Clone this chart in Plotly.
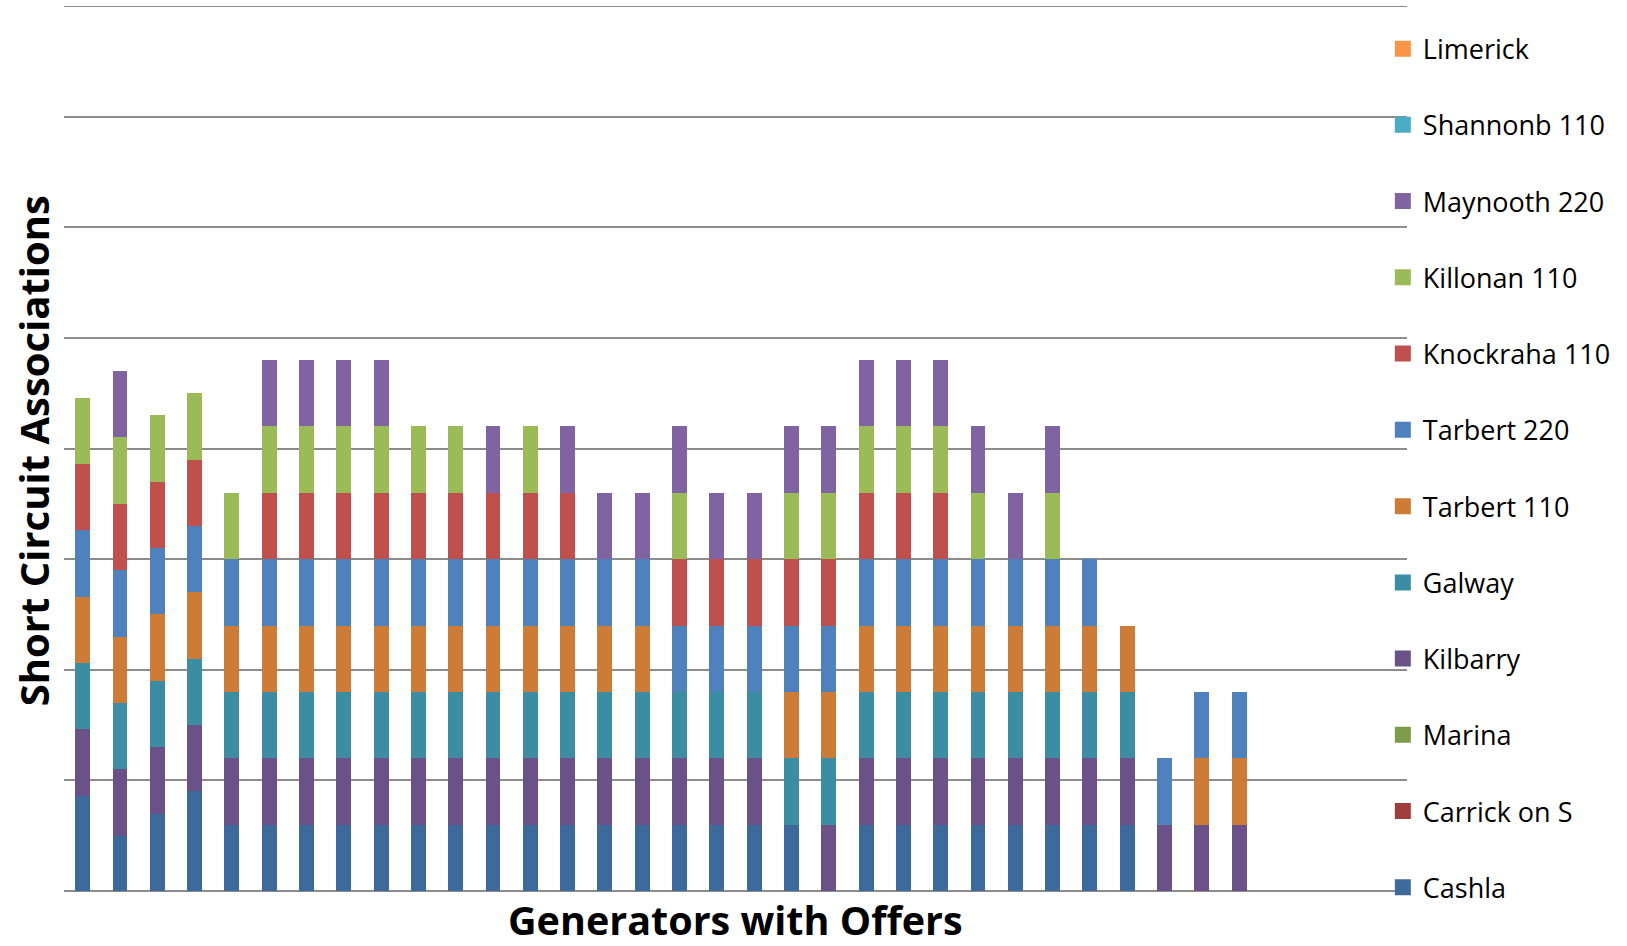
import plotly.graph_objects as go

# 36 generator slots (the last four carry no associations)
generators = [f"G{i}" for i in range(1, 37)]

cashla      = [4.3, 2.5, 3.5, 4.5, 3, 3, 3, 3, 3, 3, 3, 3, 3, 3, 3, 3, 3, 3, 3, 3, 0, 3, 3, 3, 3, 3, 3, 3, 3, 0, 0, 0, 0, 0, 0, 0]
carrick_on_s = [0] * 36
marina      = [0] * 36
kilbarry    = [3, 3, 3, 3, 3, 3, 3, 3, 3, 3, 3, 3, 3, 3, 3, 3, 3, 3, 3, 0, 3, 3, 3, 3, 3, 3, 3, 3, 3, 3, 3, 3, 0, 0, 0, 0]
galway      = [3, 3, 3, 3, 3, 3, 3, 3, 3, 3, 3, 3, 3, 3, 3, 3, 3, 3, 3, 3, 3, 3, 3, 3, 3, 3, 3, 3, 3, 0, 0, 0, 0, 0, 0, 0]
tarbert_110 = [3, 3, 3, 3, 3, 3, 3, 3, 3, 3, 3, 3, 3, 3, 3, 3, 0, 0, 0, 3, 3, 3, 3, 3, 3, 3, 3, 3, 3, 0, 3, 3, 0, 0, 0, 0]
tarbert_220 = [3, 3, 3, 3, 3, 3, 3, 3, 3, 3, 3, 3, 3, 3, 3, 3, 3, 3, 3, 3, 3, 3, 3, 3, 3, 3, 3, 3, 0, 3, 3, 3, 0, 0, 0, 0]
knockraha   = [3, 3, 3, 3, 0, 3, 3, 3, 3, 3, 3, 3, 3, 3, 0, 0, 3, 3, 3, 3, 3, 3, 3, 3, 0, 0, 0, 0, 0, 0, 0, 0, 0, 0, 0, 0]
killonan    = [3, 3, 3, 3, 3, 3, 3, 3, 3, 3, 3, 0, 3, 0, 0, 0, 3, 0, 0, 3, 3, 3, 3, 3, 3, 0, 3, 0, 0, 0, 0, 0, 0, 0, 0, 0]
maynooth    = [0, 3, 0, 0, 0, 3, 3, 3, 3, 0, 0, 3, 0, 3, 3, 3, 3, 3, 3, 3, 3, 3, 3, 3, 3, 3, 3, 0, 0, 0, 0, 0, 0, 0, 0, 0]
shannonb    = [0] * 36
limerick    = [0] * 36

series_names = ["Cashla", "Carrick on S", "Marina", "Kilbarry", "Galway", "Tarbert 110",
                "Tarbert 220", "Knockraha 110", "Killonan 110", "Maynooth 220",
                "Shannonb 110", "Limerick"]
series_values = [cashla, carrick_on_s, marina, kilbarry, galway, tarbert_110,
                 tarbert_220, knockraha, killonan, maynooth, shannonb, limerick]
series_colors = ["#3E6A9B", "#9E3D3B", "#7E9D4A", "#6A5188", "#3C8DA4", "#CD7C38",
                 "#4F81BD", "#C0504D", "#9BBB59", "#8064A2", "#4BACC6", "#F79646"]

fig = go.Figure()
n = len(series_names)
for i, (name, vals, col) in enumerate(zip(series_names, series_values, series_colors)):
    fig.add_trace(go.Bar(
        x=generators, y=vals, name=name, legendgroup=name, showlegend=False,
        marker=dict(color=col, line=dict(width=0)),
        hoverinfo="name+y",
    ))

# legend entries (square swatches), split over two legend boxes to avoid scrolling
for i, (name, col) in enumerate(zip(series_names, series_colors)):
    fig.add_trace(go.Scatter(
        x=[None], y=[None], mode="markers", name=name, legendgroup=name,
        legend="legend" if i >= 6 else "legend2",
        legendrank=n - i,
        marker=dict(symbol="square", size=16, color=col, line=dict(width=0)),
        hoverinfo="skip",
    ))

GRID = "#8C8C8C"
FONT = "Open Sans, Calibri, sans-serif"
legend_common = dict(
    traceorder="grouped", tracegroupgap=38.1,
    x=0.982, xanchor="left", yanchor="top",
    font=dict(family=FONT, size=27, color="black"),
    bgcolor="rgba(0,0,0,0)", borderwidth=0, itemwidth=30,
)
fig.update_layout(
    width=1627, height=946,
    margin=dict(l=64, r=220, t=6, b=55),
    barmode="stack", bargap=0.6,
    plot_bgcolor="white", paper_bgcolor="white",
    font=dict(family=FONT, color="black"),
    showlegend=True,
    legend=dict(legend_common, y=0.979),
    legend2=dict(legend_common, y=0.462),
    xaxis=dict(showticklabels=False, ticks="", showgrid=False, showline=False,
               zeroline=False),
    yaxis=dict(range=[0, 40], dtick=5, showticklabels=False, ticks="",
               showgrid=True, gridcolor=GRID, gridwidth=2,
               zeroline=True, zerolinecolor=GRID, zerolinewidth=2,
               showline=False),
    shapes=[dict(type="line", xref="paper", yref="y", x0=0, x1=1, y0=40, y1=40,
                 line=dict(color=GRID, width=2), layer="below")],
    annotations=[
        dict(text="<b>Short Circuit Associations</b>", xref="paper", yref="paper",
             x=-0.0231, y=0.498, xanchor="center", yanchor="middle", textangle=-90,
             showarrow=False, font=dict(family=FONT, size=40, color="black")),
        dict(text="<b>Generators with Offers</b>", xref="paper", yref="paper",
             x=0.5, y=-0.033, xanchor="center", yanchor="middle", borderpad=0,
             showarrow=False, font=dict(family=FONT, size=39.5, color="black")),
    ],
)

fig.write_html("out.html", config={"displayModeBar": False},
               post_script="document.body.style.margin='0';document.body.style.overflow='hidden';")
